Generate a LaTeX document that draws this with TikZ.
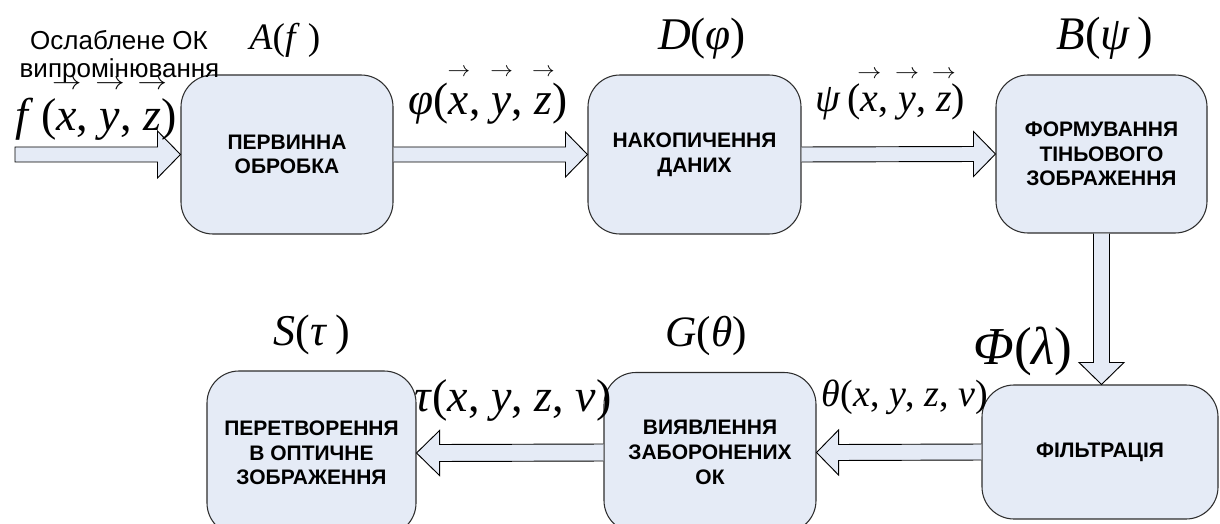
\documentclass[tikz,border=0pt]{standalone}
\usepackage{fontspec}
\usepackage{graphicx}
\setmainfont{Liberation Sans}
\newfontfamily\lserif{Liberation Serif}
\usetikzlibrary{calc}
\definecolor{boxfill}{RGB}{229,235,246}
\definecolor{boxline}{RGB}{45,45,45}
\newcommand\iv[1]{\textit{#1}}
% letter with a small arrow above it: raise, hscale, vscale, letter
\newcommand\ovec[4]{\setbox0=\hbox{#4}\leavevmode\rlap{\hbox to \wd0{\hss\raisebox{#1}{\scalebox{#2}[#3]{\fontsize{10}{10}\selectfont$\rightarrow$}}\hss}}\box0}
\tikzset{
  block/.style={draw=boxline, fill=boxfill, line width=0.8pt, rounded corners=24pt,
    align=center, inner sep=0pt, font=\bfseries\fontsize{15.75}{18.5}\selectfont},
  barrow/.style={draw=black, fill=boxfill, line width=0.7pt, line join=miter},
  lab/.style={anchor=base, inner sep=0pt, font=\lserif},
  note/.style={anchor=base, inner sep=0pt, font=\fontsize{19.5}{21}\selectfont}
}
\begin{document}
\begin{tikzpicture}[x=0.75pt, y=-0.75pt]
\useasboundingbox (0,0) rectangle (1220,524);
\clip (0,0) rectangle (1220,524);
% blocks
\node[block, minimum width=159pt, minimum height=119.25pt] (b1) at (287,154.5) {ПЕРВИННА\\ОБРОБКА};
\node[block, minimum width=159.75pt, minimum height=119.25pt] (b2) at (694.5,154.5) {НАКОПИЧЕННЯ\\ДАНИХ};
\node[block, minimum width=158.25pt, minimum height=118.5pt] (b3) at (1101.5,154) {ФОРМУВАННЯ\\ТІНЬОВОГО\\ЗОБРАЖЕННЯ};
\node[block, minimum width=177pt, minimum height=100.5pt] (bf) at (1100,452) {ФІЛЬТРАЦІЯ};
\node[block, minimum width=159pt, minimum height=120pt] (bv) at (710,452.5) {ВИЯВЛЕННЯ\\ЗАБОРОНЕНИХ\\ОК};
\node[block, minimum width=156.75pt, minimum height=123pt] (bp) at (311.5,453) {ПЕРЕТВОРЕННЯ\\В ОПТИЧНЕ\\ЗОБРАЖЕННЯ};
% input coordinate
\coordinate (in) at (15,154.5);
% block arrows
\filldraw[barrow] ($(in)+(0,-7.5)$) -- ($(b1.west)+(-23,-7.5)$) -- ++(0,-16) -- (b1.west)
  -- ($(b1.west)+(-23,23.5)$) -- ++(0,-16) -- ($(in)+(0,7.5)$) -- cycle;
\filldraw[barrow] ($(b1.east)+(0,-7.5)$) -- ($(b2.west)+(-22,-7.5)$) -- ++(0,-15) -- (b2.west)
  -- ($(b2.west)+(-22,22.5)$) -- ++(0,-15) -- ($(b1.east)+(0,7.5)$);
\filldraw[barrow] ($(b2.east)+(0,-7.5)$) -- ($(b3.west)+(-22,-7.5)$) -- ++(0,-15) -- (b3.west)
  -- ($(b3.west)+(-22,22.5)$) -- ++(0,-15) -- ($(b2.east)+(0,7.5)$);
\coordinate (tip) at (b3.south |- bf.north);
\filldraw[barrow] ($(b3.south)+(-8,0)$) -- ($(tip)+(-8,-22)$) -- ++(-14.5,0) -- (tip)
  -- ($(tip)+(22.5,-22)$) -- ++(-14.5,0) -- ($(b3.south)+(8,0)$);
\filldraw[barrow] ($(bf.west)+(0,-8)$) -- ($(bv.east)+(22,-8)$) -- ++(0,-14.5) -- (bv.east)
  -- ($(bv.east)+(22,22.5)$) -- ++(0,-14.5) -- ($(bf.west)+(0,8)$);
\filldraw[barrow] ($(bv.west)+(0,-8.5)$) -- ($(bp.east)+(23,-8.5)$) -- ++(0,-14) -- (bp.east)
  -- ($(bp.east)+(23,22.5)$) -- ++(0,-14) -- ($(bv.west)+(0,8.5)$);
% input text
\node[note] (t1) at (119,50) {Ослаблене ОК};
\node[note] (t2) at (119.5,78) {випромінювання};
% math labels
\node[lab, font=\lserif\fontsize{34.5}{36}\selectfont] (lf) at (96,131)
  {\iv{f}\,(\ovec{31pt}{2.2}{1.9}{\iv{x}}, \ovec{31pt}{2.2}{1.9}{\iv{y}}, \ovec{31pt}{2.2}{1.9}{\iv{z}})};
\node[lab, font=\lserif\fontsize{28}{30}\selectfont] (la) at (285,50) {\iv{A}(\iv{f}\hspace{0.22em})};
\node[lab, font=\lserif\fontsize{34}{36}\selectfont] (lphi) at (488,115)
  {\iv{φ}(\ovec{29pt}{1.7}{1.6}{\iv{x}}, \ovec{29pt}{1.7}{1.6}{\iv{y}}, \ovec{29pt}{1.7}{1.6}{\iv{z}})};
\node[lab, font=\lserif\fontsize{34}{36}\selectfont] (ld) at (702,50) {\iv{D}(\iv{φ})};
\node[lab, font=\lserif\fontsize{30}{32}\selectfont] (lpsi) at (890,112)
  {\iv{ψ}\,(\ovec{25pt}{1.8}{1.6}{\iv{x}}, \ovec{25pt}{1.8}{1.6}{\iv{y}}, \ovec{25pt}{1.8}{1.6}{\iv{z}})};
\node[lab, font=\lserif\fontsize{35}{36}\selectfont] (lb) at (1105,50) {\iv{B}(\iv{ψ}\,)};
\node[lab, font=\lserif\fontsize{40}{42}\selectfont] (lPhi) at (1023,364.5) {\iv{Φ}(\iv{λ})};
\node[lab, font=\lserif\fontsize{32.5}{34}\selectfont] (lg) at (706,346.5) {\iv{G}(\iv{θ})};
\node[lab, font=\lserif\fontsize{33}{34}\selectfont] (ls) at (312,345) {\iv{S}(\iv{τ}\hspace{0.2em})};
\node[lab, font=\lserif\fontsize{28.5}{30}\selectfont] (ltheta) at (905,406) {\iv{θ}(\iv{x}, \iv{y}, \iv{z}, \iv{v})};
\node[lab, font=\lserif\fontsize{34.5}{36}\selectfont] (ltau) at (513,411) {\iv{τ}(\iv{x}, \iv{y}, \iv{z}, \iv{v})};
\end{tikzpicture}
\end{document}
